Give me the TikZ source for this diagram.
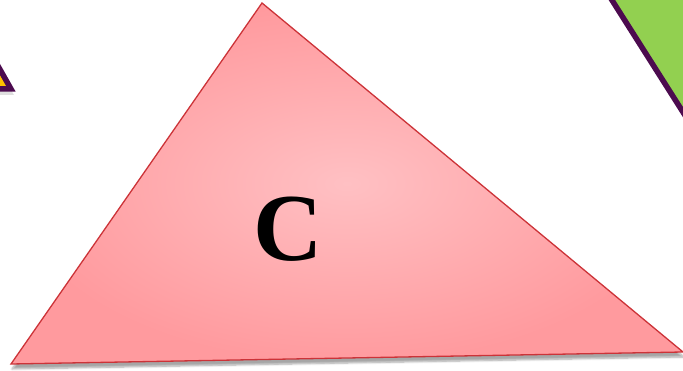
\documentclass[tikz,border=0pt]{standalone}
\usepackage{fontspec}
\setmainfont{Liberation Serif}
\usetikzlibrary{shadows.blur}
\definecolor{edgepurple}{HTML}{4C0B4F}
\definecolor{leafgreen}{HTML}{92D050}
\definecolor{amber}{HTML}{FFC000}
\definecolor{pinkin}{HTML}{FFC0C3}
\definecolor{pinkout}{HTML}{FF9A9E}
\definecolor{redline}{HTML}{CC3338}
\tikzset{
  side/.style={draw=edgepurple, line width=5.5pt, line join=miter},
  mainshape/.style={draw=redline, line width=1.3pt, line join=miter, inner color=pinkin, outer color=pinkout,
    blur shadow={shadow xshift=1pt, shadow yshift=-5pt, shadow blur steps=6, shadow opacity=35}},
  letter/.style={font=\bfseries\fontsize{96}{96}\selectfont, text=black, inner sep=0pt}
}
\begin{document}
\begin{tikzpicture}[x=1pt, y=-1pt]
\useasboundingbox (0,0) rectangle (683,371);
\clip (0,0) rectangle (683,371);
% left partial triangle
\fill[black!25, opacity=0.5] (-37,10) -- (14,95) -- (-62,95) -- cycle;
\path[side, fill=amber] (-37,4) -- (11,89) -- (-62,89) -- cycle;
% right partial triangle
\path[side, fill=leafgreen] (603,-14) -- (707,150) -- (780,-14) -- cycle;
% main triangle
\path[mainshape] (262,3) -- (683,352) -- (11,364) -- cycle;
\node[letter] (c) at (288,229) {C};
\end{tikzpicture}
\end{document}
